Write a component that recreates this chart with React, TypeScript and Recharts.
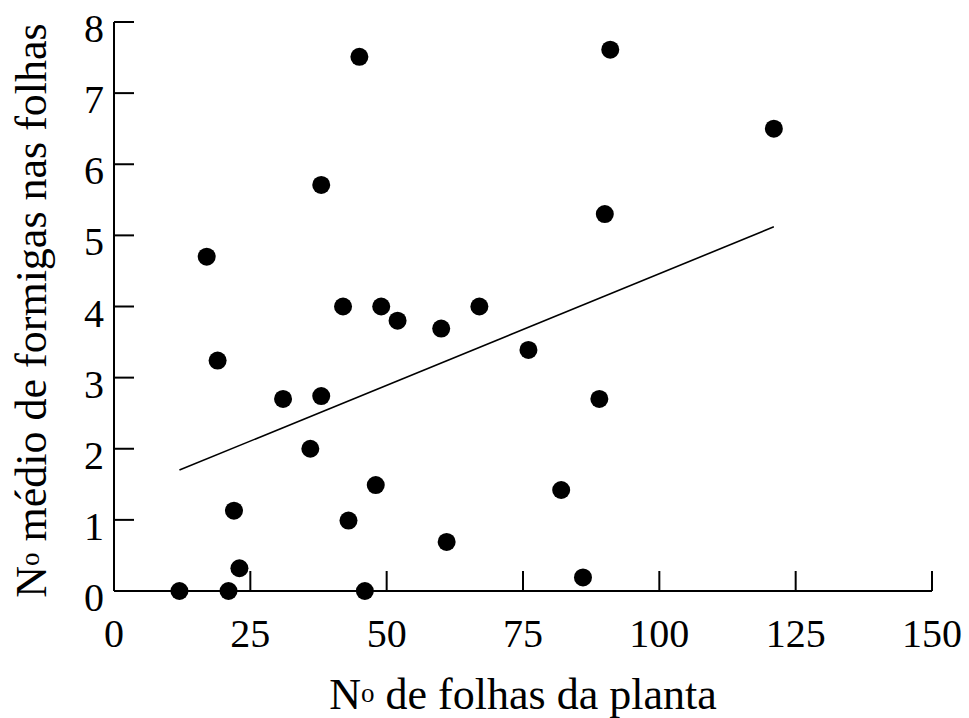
import React from 'react'
import { ScatterChart, Scatter, XAxis, YAxis, ReferenceLine } from 'recharts'

// Nº de folhas da planta (x) vs Nº médio de formigas nas folhas (y)
const leafCounts = [12, 21, 23, 22, 19, 17, 36, 31, 38, 42, 49, 52, 48, 43, 46, 38, 45, 60, 67, 76, 89, 82, 61, 86, 91, 121, 90]
const antMeans = [0, 0, 0.32, 1.13, 3.24, 4.7, 2.0, 2.7, 2.74, 4.0, 4.0, 3.8, 1.49, 0.99, 0, 5.71, 7.51, 3.69, 4.0, 3.39, 2.7, 1.42, 0.69, 0.19, 7.61, 6.5, 5.3]

// fitted line end points
const trendX = [12, 121]
const trendY = [1.7, 5.12]

const xTicks = [0, 25, 50, 75, 100, 125, 150]
const yTicks = [0, 1, 2, 3, 4, 5, 6, 7, 8]

const FONT = '"Liberation Serif", "Times New Roman", serif'
const TICK_LEN = 20

const points = leafCounts.map((x, i) => ({ x, y: antMeans[i] }))
const trend = trendX.map((x, i) => ({ x, y: trendY[i] }))

const XTick = ({ x, y, payload }: any) => (
  <g>
    <line x1={x} y1={y} x2={x} y2={y - TICK_LEN} stroke="#000" strokeWidth={2} />
    <text x={x} y={y + 56} textAnchor="middle" fontFamily={FONT} fontSize={40} fill="#000">
      {payload.value}
    </text>
  </g>
)

const YTick = ({ x, y, payload }: any) => (
  <g>
    <line x1={x} y1={y} x2={x + TICK_LEN} y2={y} stroke="#000" strokeWidth={2} />
    <text x={x - 10} y={y + 20} textAnchor="end" fontFamily={FONT} fontSize={40} fill="#000">
      {payload.value}
    </text>
  </g>
)

const XTitle = ({ viewBox }: any) => (
  <text
    x={viewBox.x + viewBox.width / 2}
    y={viewBox.y + 118}
    textAnchor="middle"
    fontFamily={FONT}
    fontSize={44}
    fill="#000"
  >
    N<tspan fontSize={27} dy={-7}>o</tspan>
    <tspan dy={7}> de folhas da planta</tspan>
  </text>
)

const YTitle = ({ viewBox }: any) => {
  const cx = 46
  const cy = viewBox.y + viewBox.height / 2 + 4
  return (
    <text
      x={cx}
      y={cy}
      transform={`rotate(-90 ${cx} ${cy})`}
      textAnchor="middle"
      fontFamily={FONT}
      fontSize={44}
      fill="#000"
    >
      N<tspan fontSize={27} dy={-7}>o</tspan>
      <tspan dy={7}> médio de formigas nas folhas</tspan>
    </text>
  )
}

const Dot = (props: any) => <circle cx={props.cx} cy={props.cy} r={9} fill="#000" />

export default function App() {
  return (
    <div style={{ position: 'absolute', left: 0, top: 0, background: '#fff' }}>
      <ScatterChart width={969} height={718} margin={{ top: 22, right: 37, bottom: 0, left: 0 }}>
        <XAxis
          type="number"
          dataKey="x"
          domain={[0, 150]}
          ticks={xTicks}
          height={127}
          tickSize={0}
          tickMargin={0}
          tickLine={false}
          axisLine={{ stroke: '#000', strokeWidth: 2 }}
          tick={<XTick />}
          label={(p: any) => <XTitle viewBox={p.viewBox} />}
        />
        <YAxis
          type="number"
          dataKey="y"
          domain={[0, 8]}
          ticks={yTicks}
          width={114}
          tickSize={0}
          tickMargin={0}
          tickLine={false}
          axisLine={{ stroke: '#000', strokeWidth: 2 }}
          tick={<YTick />}
          label={(p: any) => <YTitle viewBox={p.viewBox} />}
        />
        <ReferenceLine segment={trend} stroke="#000" strokeWidth={1.6} ifOverflow="visible" />
        <Scatter data={points} fill="#000" shape={<Dot />} isAnimationActive={false} />
      </ScatterChart>
    </div>
  )
}
